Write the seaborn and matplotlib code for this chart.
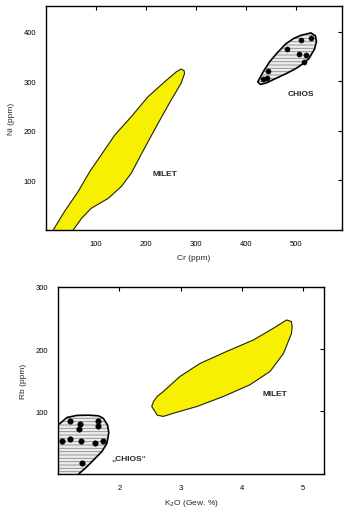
import numpy as np
import pandas as pd
import matplotlib
matplotlib.use("Agg")
import matplotlib.pyplot as plt
import seaborn as sns

# --- Ni vs Cr (upper panel) ---
milet_cr = [0, 15, 38, 65, 88, 111, 138, 171, 204, 237, 260, 270, 276, 277, 270,
            250, 224, 197, 171, 151, 125, 91, 72, 55, 48]
milet_ni = [-20, 0, 38, 78, 118, 152, 192, 229, 269, 299, 319, 325, 322, 316, 296,
            262, 215, 165, 115, 88, 64, 44, 24, 0, -20]

chios_cr = [423, 433, 446, 462, 479, 495, 509, 529, 538, 540, 536, 525, 512, 499,
            480, 459, 440, 428]
chios_ni = [299, 318, 339, 358, 376, 387, 393, 398, 392, 380, 365, 346, 335, 326,
            316, 306, 297, 294]

chios_pts_cr = [433, 442, 443, 482, 509, 529, 506, 519, 516]
chios_pts_ni = [304, 306, 321, 365, 383, 388, 356, 353, 339]

# --- Rb vs K2O (lower panel) ---
milet_k2o = [2.53, 2.56, 2.62, 2.72, 2.99, 3.32, 3.75, 4.19, 4.51, 4.73, 4.81,
             4.82, 4.81, 4.68, 4.46, 4.13, 3.70, 3.27, 2.88, 2.72, 2.62]
milet_rb = [108, 116, 124, 132, 156, 177, 196, 214.6, 233, 246.6, 244,
            236, 225, 193, 164, 142.6, 124, 108, 97, 92, 94]

chios_k2o = [0.9, 1.04, 1.15, 1.31, 1.50, 1.66, 1.74, 1.81, 1.83, 1.80, 1.72, 1.61,
             1.50, 1.42, 1.34, 1.30, 0.9]
chios_rb = [70, 81.3, 90.4, 93.6, 94, 93, 89, 78, 66, 49, 36, 25, 14, 6.6, 0, -10, -10]

chios_pts_k2o = [1.19, 1.365, 1.34, 1.66, 1.66, 1.07, 1.20, 1.38, 1.61, 1.74, 1.39]
chios_pts_rb = [84, 80, 72, 84, 76, 52, 55.7, 53, 49, 53, 17]

sns.set_theme(style="white")
plt.rcParams['font.family'] = ['Liberation Sans', 'DejaVu Sans']
plt.rcParams['hatch.linewidth'] = 0.6

yellow = '#f7f000'

fig = plt.figure(figsize=(3.51, 5.10), dpi=100)
ax1 = fig.add_axes([0.130, 0.547, 0.843, 0.439])
ax2 = fig.add_axes([0.165, 0.069, 0.758, 0.367])


def field(ax, xs, ys, color, hatch=None):
    if hatch:
        ax.fill(xs, ys, facecolor='#ececec', edgecolor='#8a8a8a', hatch=hatch,
                linewidth=0, zorder=2)
        ax.fill(xs, ys, facecolor='none', edgecolor='black', linewidth=1.2,
                joinstyle='round', zorder=3)
    else:
        ax.fill(xs, ys, facecolor=color, edgecolor='#202010', linewidth=0.8,
                joinstyle='round', zorder=2)


def style(ax):
    for s in ax.spines.values():
        s.set_color('black')
        s.set_linewidth(1.0)
    ax.tick_params(direction='in', length=3, width=0.8, top=True, right=True,
                   labelsize=5.5, pad=7, colors='black')
    ax.grid(False)


# upper panel
field(ax1, milet_cr, milet_ni, yellow)
field(ax1, chios_cr, chios_ni, None, hatch='-----')
sns.scatterplot(x=chios_pts_cr, y=chios_pts_ni, ax=ax1, color='black', s=14,
                edgecolor='black', zorder=4)
ax1.set_xlim(0, 590)
ax1.set_ylim(0, 452)
ax1.set_xticks([100, 200, 300, 400, 500])
ax1.set_yticks([100, 200, 300, 400])
ax1.set_xlabel('Cr (ppm)', fontsize=6, labelpad=5)
ax1.set_ylabel('Ni (ppm)', fontsize=6, labelpad=6)
ax1.text(237, 115, 'MILET', fontsize=6, fontweight='bold', ha='center', va='center')
ax1.text(509, 276, 'CHIOS', fontsize=6, fontweight='bold', ha='center', va='center')
style(ax1)

# lower panel
field(ax2, milet_k2o, milet_rb, yellow)
field(ax2, chios_k2o, chios_rb, None, hatch='-----')
sns.scatterplot(x=chios_pts_k2o, y=chios_pts_rb, ax=ax2, color='black', s=16,
                edgecolor='black', zorder=4)
ax2.set_xlim(1, 5.34)
ax2.set_ylim(0, 300)
ax2.set_xticks([2, 3, 4, 5])
ax2.set_yticks([100, 200, 300])
ax2.set_xlabel('K$_2$O (Gew. %)', fontsize=6, labelpad=5)
ax2.set_ylabel('Rb (ppm)', fontsize=6, labelpad=6)
ax2.text(4.54, 129, 'MILET', fontsize=6, fontweight='bold', ha='center', va='center')
ax2.text(2.15, 25, '„CHIOS“', fontsize=6, fontweight='bold', ha='center', va='center')
style(ax2)

fig.savefig('out.png', dpi=100, facecolor='white')
